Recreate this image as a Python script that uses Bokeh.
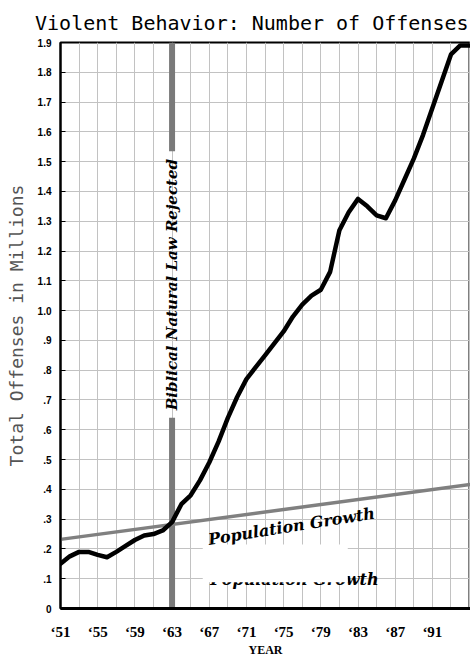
from math import pi
from bokeh.plotting import figure
from bokeh.models import Range1d, FixedTicker
from bokeh.embed import file_html
from bokeh.resources import INLINE
from bokeh.core.properties import value

# ---------------- data ----------------
offense_years = [1951, 1952, 1953, 1954, 1955, 1956, 1957, 1958, 1959, 1960,
                 1961, 1962, 1963, 1964, 1965, 1966, 1967, 1968, 1969, 1970,
                 1971, 1972, 1973, 1974, 1975, 1976, 1977, 1978, 1979, 1980,
                 1981, 1982, 1983, 1984, 1985, 1986, 1987, 1988, 1989, 1990,
                 1991, 1992, 1993, 1994, 1995, 1996]
offenses_millions = [0.15, 0.175, 0.19, 0.19, 0.18, 0.172, 0.19, 0.21, 0.23, 0.245,
                     0.25, 0.262, 0.29, 0.35, 0.38, 0.43, 0.49, 0.56, 0.64, 0.71,
                     0.77, 0.81, 0.85, 0.89, 0.93, 0.98, 1.02, 1.05, 1.07, 1.13,
                     1.27, 1.33, 1.375, 1.35, 1.32, 1.31, 1.37, 1.44, 1.51, 1.59,
                     1.68, 1.77, 1.86, 1.89, 1.89, 1.89]

population_years = [1951, 1996]
population_millions = [0.232, 0.42]

law_rejected_year = 1963

xtick_years = [1951, 1955, 1959, 1963, 1967, 1971, 1975, 1979, 1983, 1987, 1991]
xtick_labels = ["\u201851", "\u201855", "\u201859", "\u201863", "\u201867", "\u201871",
                "\u201875", "\u201879", "\u201883", "\u201887", "\u201891"]
ytick_values = [0.0, 0.1, 0.2, 0.3, 0.4, 0.5, 0.6, 0.7, 0.8, 0.9,
                1.0, 1.1, 1.2, 1.3, 1.4, 1.5, 1.6, 1.7, 1.8, 1.9]
ytick_labels = ["0", ".1", ".2", ".3", ".4", ".5", ".6", ".7", ".8", ".9",
                "1.0", "1.1", "1.2", "1.3", "1.4", "1.5", "1.6", "1.7", "1.8", "1.9"]
grid_years = [1953, 1955, 1957, 1959, 1961, 1963, 1965, 1967, 1969, 1971, 1973,
              1975, 1977, 1979, 1981, 1983, 1985, 1987, 1989, 1991, 1993, 1995]

# ---------------- figure ----------------
p = figure(width=470, height=661,
           x_range=Range1d(1951, 1995.1), y_range=Range1d(0, 1.9),
           output_backend="svg", toolbar_location=None,
           min_border_left=60, min_border_right=0,
           min_border_top=42, min_border_bottom=53,
           title="Violent Behavior: Number of Offenses")

p.background_fill_color = "white"
p.border_fill_color = "white"
p.outline_line_color = "black"
p.outline_line_width = 2

p.title.text_font = "DejaVu Sans Mono"
p.title.text_font_size = "20px"
p.title.text_font_style = "normal"
p.title.text_color = "black"
p.title.align = "right"
p.title.offset = 2
p.title.standoff = 16

# grid
p.xgrid.ticker = FixedTicker(ticks=grid_years)
p.ygrid.ticker = FixedTicker(ticks=ytick_values[1:])
for g in (p.xgrid, p.ygrid):
    g.grid_line_color = "#c2c2c2"
    g.grid_line_width = 1
    g.grid_line_alpha = 1.0

# x axis
xa = p.xaxis[0]
xa.ticker = FixedTicker(ticks=xtick_years)
xa.major_label_overrides = dict(zip(xtick_years, xtick_labels))
xa.major_label_text_font = "Liberation Serif"
xa.major_label_text_font_style = "bold"
xa.major_label_text_font_size = "15px"
xa.major_label_text_color = "black"
xa.major_label_standoff = 9
xa.major_tick_line_color = None
xa.minor_tick_line_color = None
xa.axis_line_color = "black"
xa.axis_line_width = 3
xa.axis_label = "YEAR"
xa.axis_label_text_font = "Liberation Serif"
xa.axis_label_text_font_style = "bold"
xa.axis_label_text_font_size = "12px"
xa.axis_label_text_color = "black"
xa.axis_label_standoff = 0

# y axis
ya = p.yaxis[0]
ya.ticker = FixedTicker(ticks=ytick_values)
ya.major_label_overrides = dict(zip(ytick_values, ytick_labels))
ya.major_label_text_font = "Liberation Sans"
ya.major_label_text_font_style = "bold"
ya.major_label_text_font_size = "10px"
ya.major_label_text_color = "black"
ya.major_label_standoff = 9
ya.major_tick_in = 5
ya.major_tick_out = 0
ya.major_tick_line_color = "black"
ya.minor_tick_line_color = None
ya.axis_line_color = "black"
ya.axis_line_width = 2
ya.axis_label = "Total Offenses in Millions"
ya.axis_label_text_font = "DejaVu Sans Mono"
ya.axis_label_text_font_size = "18px"
ya.axis_label_text_font_style = "normal"
ya.axis_label_text_color = "#555555"
ya.axis_label_standoff = 8

# remnant text hidden under a white patch
p.text(x=[1967.1], y=[0.098], text=["Population Growth"],
       text_font=value("DejaVu Serif"), text_font_style="bold italic",
       text_font_size="16px", text_color="black", text_baseline="alphabetic",
       text_align="left")
p.quad(left=[1966.3], right=[1981.9], bottom=[0.088], top=[0.215],
       fill_color="white", line_color=None)

# vertical marker bar (broken around its label)
p.segment(x0=[law_rejected_year, law_rejected_year], y0=[0.0, 1.535],
          x1=[law_rejected_year, law_rejected_year], y1=[0.64, 1.9],
          line_color="#7a7a7a", line_width=6)
p.text(x=[law_rejected_year], y=[1.087], text=["Biblical Natural Law Rejected"],
       angle=pi / 2, text_align="center", text_baseline="middle",
       text_font=value("DejaVu Serif"), text_font_style="bold italic",
       text_font_size="15px", text_color="black")

# population line
p.line(population_years, population_millions, line_color="#808080", line_width=3.5)
p.text(x=[1966.9], y=[0.2315], text=["Population Growth"], angle=0.158,
       text_font=value("DejaVu Serif"), text_font_style="bold italic",
       text_font_size="16px", text_color="black", text_baseline="alphabetic",
       text_align="left")

# offenses line
p.line(offense_years, offenses_millions, line_color="black", line_width=4.5,
       line_join="round", line_cap="round")

open("out.html", "w").write(file_html(p, INLINE))
